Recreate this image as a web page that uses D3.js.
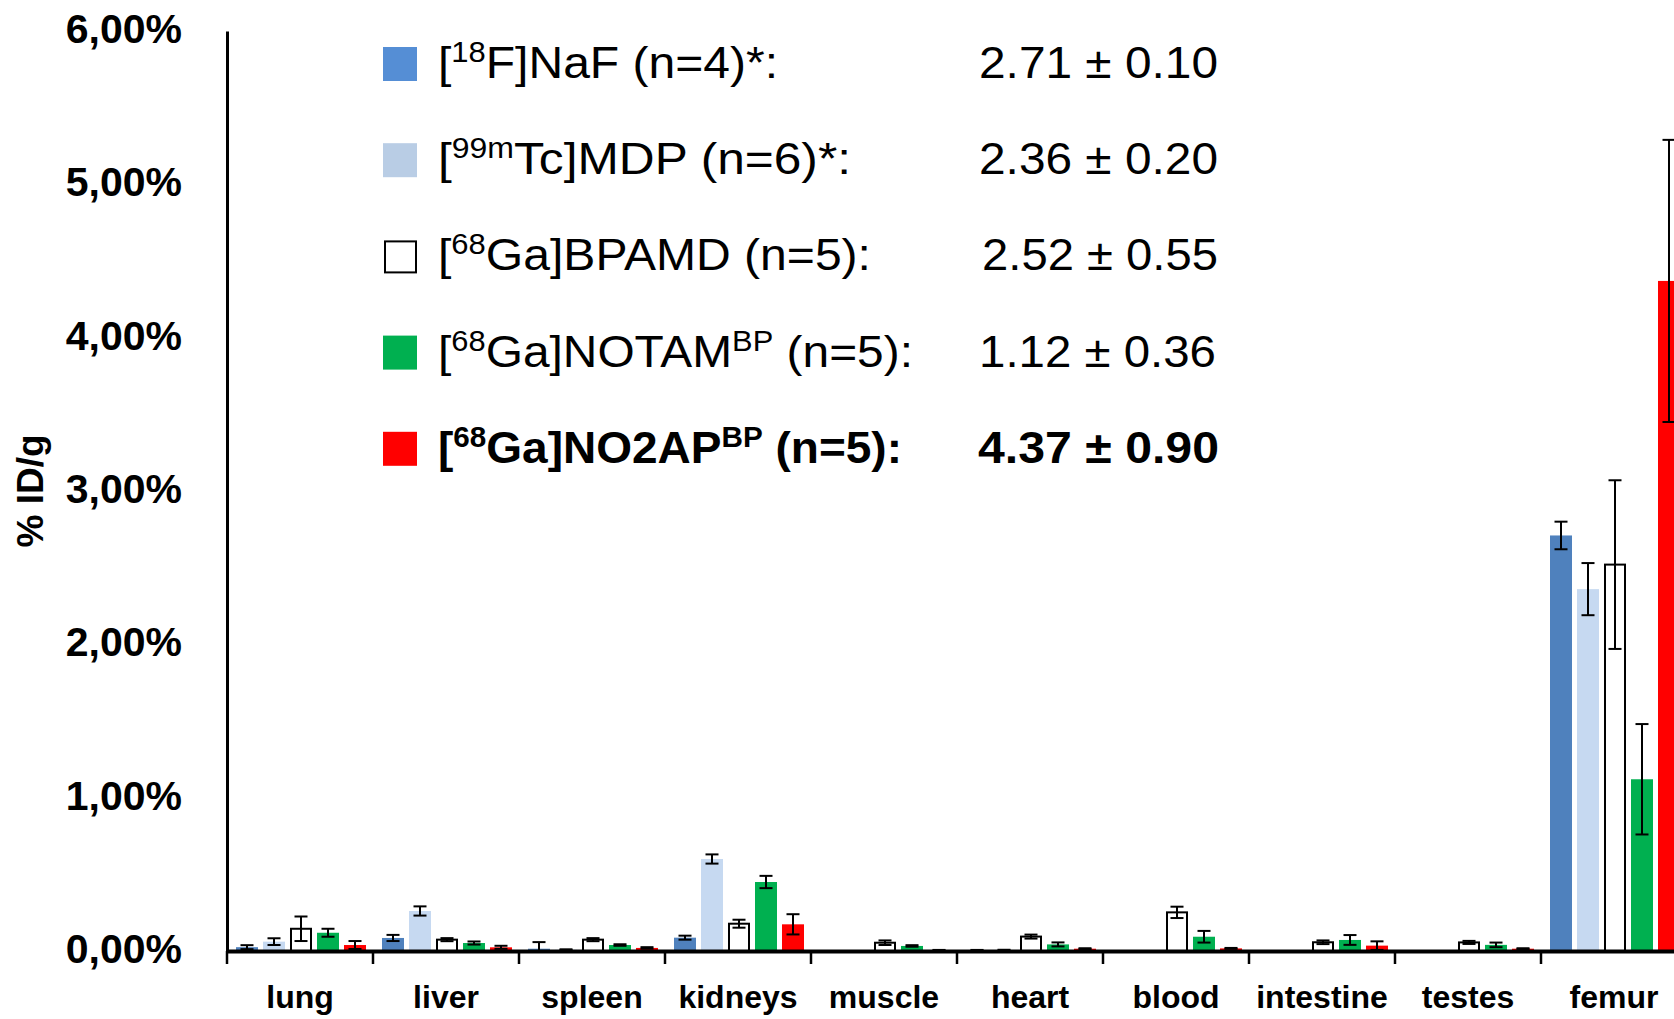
<!DOCTYPE html>
<html>
<head>
<meta charset="utf-8">
<script src="https://cdn.jsdelivr.net/npm/d3@7"></script>
<style>
  body { margin: 0; background: #fff; }
  svg { display: block; }
  text { font-family: "Liberation Sans", Arial, sans-serif; fill: #000; }
</style>
</head>
<body>
<div id="root"></div>
<script>
// organs on the x axis
const categories = ["lung", "liver", "spleen", "kidneys", "muscle", "heart", "blood", "intestine", "testes", "femur"];

// %ID/g per organ, one array per tracer
const nafValues   = [0.025, 0.085, 0.015, 0.087, 0,     0.005, 0,     0,     0,     2.71];
const nafErrors   = [0.013, 0.02,  0.043, 0.013, 0,     0.002, 0,     0,     0,     0.09];
const mdpValues   = [0.061, 0.261, 0.008, 0.600, 0,     0.005, 0,     0,     0,     2.36];
const mdpErrors   = [0.022, 0.03,  0.003, 0.03,  0,     0.003, 0,     0,     0,     0.17];
const bpamdValues = [0.145, 0.074, 0.074, 0.178, 0.054, 0.094, 0.252, 0.057, 0.056, 2.52];
const bpamdErrors = [0.08,  0.01,  0.01,  0.026, 0.015, 0.013, 0.037, 0.012, 0.01,  0.55];
const notamValues = [0.119, 0.052, 0.039, 0.45,  0.033, 0.043, 0.093, 0.072, 0.04,  1.12];
const notamErrors = [0.026, 0.01,  0.005, 0.04,  0.005, 0.013, 0.038, 0.032, 0.015, 0.36];
const no2apValues = [0.039, 0.024, 0.02,  0.174, 0.005, 0.015, 0.017, 0.035, 0.015, 4.37];
const no2apErrors = [0.026, 0.01,  0.005, 0.066, 0.002, 0.003, 0.003, 0.028, 0.003, 0.92];

// legend texts
const legendIsotopes = ["18", "99m", "68", "68", "68"];
const legendNames    = ["F]NaF", "Tc]MDP", "Ga]BPAMD", "Ga]NOTAM", "Ga]NO2AP"];
const legendSup      = ["", "", "", "BP", "BP"];
const legendN        = [" (n=4)*:", " (n=6)*:", " (n=5):", " (n=5):", " (n=5):"];
const legendValues   = ["2.71 \u00b1 0.10", "2.36 \u00b1 0.20", "2.52 \u00b1 0.55", "1.12 \u00b1 0.36", "4.37 \u00b1 0.90"];

// y ticks
const yTicks = [0, 1, 2, 3, 4, 5, 6];

// styles
const fills   = ["#4f81bd", "#c6d9f1", "#ffffff", "#00b050", "#ff0000"];
const strokes = ["none", "none", "#000", "none", "none"];
const legendFills = ["#558ed5", "#b9cde5", "#ffffff", "#00b050", "#ff0000"];
const labelWidths = [340, 413, 433, 475, 464];
const valueWidths = [239, 239, 236, 237, 241];
const valueX      = [979, 979, 982, 979, 978];

const series = [
  { values: nafValues,   errors: nafErrors },
  { values: mdpValues,   errors: mdpErrors },
  { values: bpamdValues, errors: bpamdErrors },
  { values: notamValues, errors: notamErrors },
  { values: no2apValues, errors: no2apErrors }
];

const W = 1674, H = 1019;
const left = 227, catW = 146, base = 951;

const svg = d3.select("#root").append("svg")
  .attr("width", W)
  .attr("height", H);

// scales
const x = d3.scaleBand()
  .domain(categories)
  .range([left, left + catW * categories.length])
  .padding(0);

const xs = d3.scaleBand()
  .domain(d3.range(series.length))
  .range([9, 139])
  .paddingInner(0.185);

const y = d3.scaleLinear()
  .domain([0, 6])
  .range([base, 31]);

// bars
series.forEach((s, i) => {
  const rows = categories.map((c, j) => ({ c, v: s.values[j], e: s.errors[j] }));
  const g = svg.append("g");

  g.selectAll("rect")
    .data(rows.filter(d => d.v > 0))
    .join("rect")
    .attr("x", d => x(d.c) + xs(i) + (strokes[i] !== "none" ? 1 : 0))
    .attr("y", d => y(d.v))
    .attr("width", xs.bandwidth() - (strokes[i] !== "none" ? 2 : 0))
    .attr("height", d => y(0) - y(d.v))
    .attr("fill", fills[i])
    .attr("stroke", strokes[i])
    .attr("stroke-width", 2);

  // error bars
  const eb = g.selectAll("g.err")
    .data(rows.filter(d => d.e > 0))
    .join("g")
    .attr("class", "err")
    .attr("stroke", "#000")
    .attr("stroke-width", 2);

  const cx = d => x(d.c) + xs(i) + xs.bandwidth() / 2;
  eb.append("line")
    .attr("x1", cx).attr("x2", cx)
    .attr("y1", d => y(d.v + d.e))
    .attr("y2", d => y(Math.max(0, d.v - d.e)));
  eb.append("line")
    .attr("x1", d => cx(d) - 6.5).attr("x2", d => cx(d) + 6.5)
    .attr("y1", d => y(d.v + d.e)).attr("y2", d => y(d.v + d.e));
  eb.filter(d => d.v - d.e > 0).append("line")
    .attr("x1", d => cx(d) - 6.5).attr("x2", d => cx(d) + 6.5)
    .attr("y1", d => y(d.v - d.e)).attr("y2", d => y(d.v - d.e));
});

// y axis
const yAxis = svg.append("g")
  .attr("transform", `translate(${left},0)`)
  .call(d3.axisLeft(y)
    .tickValues(yTicks)
    .tickSize(0)
    .tickSizeOuter(0)
    .tickPadding(45)
    .tickFormat(d => d.toFixed(2).replace(".", ",") + "%"));
yAxis.select(".domain").attr("stroke", "#000").attr("stroke-width", 3);
yAxis.selectAll("text")
  .attr("font-size", 41)
  .attr("font-weight", "bold")
  .attr("font-family", "Liberation Sans, Arial, sans-serif")
  .attr("dy", "0.28em");

// x axis
const xAxis = svg.append("g")
  .attr("transform", `translate(0,${base})`)
  .call(d3.axisBottom(x).tickSize(0).tickSizeOuter(0).tickPadding(0));
xAxis.select(".domain").attr("stroke", "#000").attr("stroke-width", 4);
xAxis.selectAll("text")
  .attr("y", 57)
  .attr("dy", 0)
  .attr("font-size", 32)
  .attr("font-weight", "bold")
  .attr("font-family", "Liberation Sans, Arial, sans-serif");

// ticks at category boundaries
svg.append("g")
  .selectAll("line")
  .data(categories)
  .join("line")
  .attr("x1", d => x(d)).attr("x2", d => x(d))
  .attr("y1", base).attr("y2", base + 13)
  .attr("stroke", "#000")
  .attr("stroke-width", 2.5);

// y axis title
svg.append("text")
  .attr("transform", "translate(43,491) rotate(-90)")
  .attr("text-anchor", "middle")
  .attr("font-size", 37)
  .attr("font-weight", "bold")
  .text("% ID/g");

// legend
const legend = svg.append("g");
legendNames.forEach((name, i) => {
  const by = 78 + i * 96.2;
  const bold = i === 4 ? "bold" : "normal";
  if (i === 2) {
    legend.append("rect")
      .attr("x", 385).attr("y", by - 29).attr("width", 31).attr("height", 31)
      .attr("fill", "#fff").attr("stroke", "#000").attr("stroke-width", 2);
  } else {
    legend.append("rect")
      .attr("x", 383).attr("y", by - 31).attr("width", 34).attr("height", 34)
      .attr("fill", legendFills[i]);
  }

  const t = legend.append("text")
    .attr("x", 438).attr("y", by)
    .attr("font-size", 45)
    .attr("font-weight", bold)
    .attr("textLength", labelWidths[i])
    .attr("lengthAdjust", "spacingAndGlyphs");
  t.append("tspan").text("[");
  t.append("tspan").attr("font-size", 29).attr("dy", -16).text(legendIsotopes[i]);
  t.append("tspan").attr("dy", 16).text(name);
  if (legendSup[i]) {
    t.append("tspan").attr("font-size", 29).attr("dy", -16).text(legendSup[i]);
    t.append("tspan").attr("dy", 16).text(legendN[i]);
  } else {
    t.append("tspan").text(legendN[i]);
  }

  legend.append("text")
    .attr("x", valueX[i]).attr("y", by)
    .attr("font-size", 45)
    .attr("font-weight", bold)
    .attr("textLength", valueWidths[i])
    .attr("lengthAdjust", "spacingAndGlyphs")
    .text(legendValues[i]);
});
</script>
</body>
</html>
